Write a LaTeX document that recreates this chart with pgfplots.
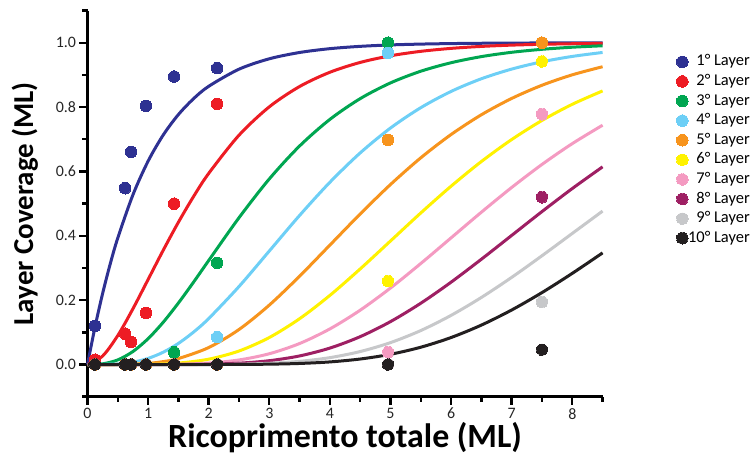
\documentclass[border=0pt]{standalone}
\usepackage{pgfplots}
\pgfplotsset{compat=1.18}
\usepackage{pgfplotstable}
\usepackage{fontspec}
\setmainfont{Carlito}

\definecolor{c1}{HTML}{2E3192}
\definecolor{c2}{HTML}{ED1C24}
\definecolor{c3}{HTML}{00A651}
\definecolor{c4}{HTML}{6DCFF6}
\definecolor{c5}{HTML}{F7941D}
\definecolor{c6}{HTML}{FFF200}
\definecolor{c7}{HTML}{F49AC1}
\definecolor{c8}{HTML}{9E1F63}
\definecolor{c9}{HTML}{C7C8CA}
\definecolor{c10}{HTML}{231F20}

% measured coverage of each layer versus total coverage
\pgfplotstableread{
x     l1    l2    l3    l4    l5    l6    l7    l8    l9    l10
0.124 0.120 0.015 0     0     0     0     0     0     0     0
0.62  0.548 0.096 0     0     0     0     0     0     0     0
0.72  0.661 0.070 0     0     0     0     0     0     0     0
0.965 0.804 0.160 0     0     0     0     0     0     0     0
1.43  0.895 0.500 0.038 0     0     0     0     0     0     0
2.14  0.921 0.810 0.316 0.085 0     0     0     0     0     0
4.96  1.000 1.000 1.000 0.968 0.698 0.259 0.038 0     0     0
7.50  1.000 1.000 1.000 1.000 1.000 0.942 0.778 0.520 0.194 0.046
}\points

\pgfplotsset{
  dots/.style={only marks, mark=*, mark size=5.8bp, mark options={draw=#1, fill=#1, line width=0pt}},
  fit/.style={smooth, no markers, line width=3bp, color=#1, forget plot},
}

\begin{document}
\begin{tikzpicture}
\useasboundingbox (0,0) rectangle (753bp,454bp);
\begin{axis}[
  at={(87.5bp,57.3bp)}, anchor=south west,
  scale only axis, width=515.1bp, height=386.1bp,
  xmin=0, xmax=8.5, ymin=-0.1, ymax=1.1,
  axis lines*=left,
  axis line style={line width=2.9bp, black},
  xtick={0,1,...,8}, minor xtick={0.5,1.5,...,8.5},
  ytick={0,0.2,0.4,0.6,0.8,1.0}, minor ytick={-0.1,0.1,0.3,0.5,0.7,0.9,1.1},
  xtick pos=left, ytick pos=left, tick align=outside,
  major tick length=8bp, minor tick length=5bp,
  every tick/.style={line width=2.4bp, black},
  /pgf/number format/assume math mode=true,
  ticklabel style={font=\fontsize{16}{16}\selectfont, color=black!85},
  yticklabel style={/pgf/number format/.cd, fixed, fixed zerofill, precision=1},
  xlabel={Ricoprimento totale (ML)},
  ylabel={Layer Coverage (ML)},
  xlabel style={font=\bfseries\fontsize{34}{34}\selectfont, at={(axis description cs:0.5,-0.1303)}, anchor=base},
  ylabel style={font=\bfseries\fontsize{29}{29}\selectfont, at={(axis description cs:-0.1058,0.5)}, anchor=base, rotate=0},
  legend cell align=right,
  legend style={draw=none, fill=none, inner sep=0pt,
    at={(rel axis cs:1.286,0.8885)}, anchor=north east,
    font=\fontsize{16.5}{16.5}\selectfont,
    row sep=3.6bp,
    nodes={inner sep=0pt, text height=12bp, text depth=4bp},
    /tikz/every even column/.append style={column sep=3bp}},
  clip=false,
]
\addplot+[dots=c1]  table[x=x, y=l1]  {\points}; \addlegendentry{1° Layer}
\addplot+[dots=c2]  table[x=x, y=l2]  {\points}; \addlegendentry{2° Layer}
\addplot+[dots=c3]  table[x=x, y=l3]  {\points}; \addlegendentry{3° Layer}
\addplot+[dots=c4]  table[x=x, y=l4]  {\points}; \addlegendentry{4° Layer}
\addplot+[dots=c5]  table[x=x, y=l5]  {\points}; \addlegendentry{5° Layer}
\addplot+[dots=c6]  table[x=x, y=l6]  {\points}; \addlegendentry{6° Layer}
\addplot+[dots=c7]  table[x=x, y=l7]  {\points}; \addlegendentry{7° Layer}
\addplot+[dots=c8]  table[x=x, y=l8]  {\points}; \addlegendentry{8° Layer}
\addplot+[dots=c9]  table[x=x, y=l9]  {\points}; \addlegendentry{9° Layer}
\addplot+[dots=c10] table[x=x, y=l10] {\points}; \addlegendentry{10° Layer}

% fitted growth curves, one per layer
\addplot[fit=c1] coordinates {(0,0) (0.125,0.1175) (0.25,0.2212) (0.375,0.3127) (0.5,0.3935) (0.75,0.5276) (1,0.6321) (1.25,0.7135) (1.5,0.7769) (1.75,0.8262) (2,0.8647) (2.5,0.9179) (3,0.9502) (3.5,0.9698) (4,0.9817) (4.5,0.9889) (5,0.9933) (5.5,0.9959) (6,0.9975) (6.5,0.9985) (7,0.9991) (7.5,0.9994) (8,0.9997) (8.5,0.9998)};
\addplot[fit=c2] coordinates {(0,0) (0.25,0.0265) (0.5,0.0902) (0.75,0.1734) (1,0.2642) (1.25,0.3554) (1.5,0.4422) (1.75,0.5221) (2,0.5940) (2.5,0.7127) (3,0.8009) (3.5,0.8641) (4,0.9084) (4.5,0.9389) (5,0.9596) (5.5,0.9734) (6,0.9826) (6.5,0.9887) (7,0.9927) (7.5,0.9953) (8,0.9970) (8.5,0.9981)};
\addplot[fit=c3] coordinates {(0,0) (0.25,0.0022) (0.5,0.0144) (0.75,0.0405) (1,0.0803) (1.25,0.1315) (1.5,0.1912) (1.75,0.2560) (2,0.3233) (2.5,0.4562) (3,0.5768) (3.5,0.6792) (4,0.7619) (4.5,0.8264) (5,0.8753) (5.5,0.9116) (6,0.9380) (6.5,0.9570) (7,0.9704) (7.5,0.9797) (8,0.9862) (8.5,0.9907)};
\addplot[fit=c4] coordinates {(0,0) (0.5,0.0018) (0.75,0.0073) (1,0.0190) (1.25,0.0383) (1.5,0.0656) (1.75,0.1008) (2,0.1429) (2.5,0.2424) (3,0.3528) (3.5,0.4634) (4,0.5665) (4.5,0.6577) (5,0.7350) (5.5,0.7983) (6,0.8488) (6.5,0.8882) (7,0.9182) (7.5,0.9409) (8,0.9576) (8.5,0.9699)};
\addplot[fit=c5] coordinates {(0,0) (0.5,0.0002) (1,0.0037) (1.25,0.0091) (1.5,0.0186) (2,0.0527) (2.5,0.1088) (3,0.1847) (3.5,0.2746) (4,0.3712) (4.5,0.4679) (5,0.5595) (5.5,0.6425) (6,0.7149) (6.5,0.7763) (7,0.8270) (7.5,0.8680) (8,0.9004) (8.5,0.9256)};
\addplot[fit=c6] coordinates {(0,0) (0.5,0) (1,0.0006) (1.5,0.0045) (2,0.0166) (2.5,0.0420) (3,0.0839) (3.5,0.1424) (4,0.2149) (4.5,0.2971) (5,0.3840) (5.5,0.4711) (6,0.5543) (6.5,0.6310) (7,0.6993) (7.5,0.7586) (8,0.8088) (8.5,0.8504)};
\addplot[fit=c7] coordinates {(0,0) (0.5,0) (1,0.0001) (1.5,0.0009) (2,0.0045) (2.5,0.0142) (3,0.0335) (3.5,0.0653) (4,0.1107) (4.5,0.1689) (5,0.2378) (5.5,0.3140) (6,0.3937) (6.5,0.4735) (7,0.5503) (7.5,0.6219) (8,0.6866) (8.5,0.7438)};
\addplot[fit=c8] coordinates {(0,0) (0.5,0) (1,0) (1.5,0.0002) (2,0.0011) (2.5,0.0042) (3,0.0119) (3.5,0.0267) (4,0.0511) (4.5,0.0866) (5,0.1334) (5.5,0.1905) (6,0.2560) (6.5,0.3273) (7,0.4013) (7.5,0.4754) (8,0.5470) (8.5,0.6144)};
\addplot[fit=c9] coordinates {(0,0) (0.5,0) (1,0) (1.5,0) (2,0.0002) (2.5,0.0011) (3,0.0038) (3.5,0.0099) (4,0.0214) (4.5,0.0403) (5,0.0681) (5.5,0.1056) (6,0.1528) (6.5,0.2085) (7,0.2709) (7.5,0.3381) (8,0.4075) (8.5,0.4769)};
\addplot[fit=c10] coordinates {(0,0) (0.5,0) (1,0) (1.5,0) (2,0) (2.5,0.0003) (3,0.0011) (3.5,0.0033) (4,0.0081) (4.5,0.0171) (5,0.0318) (5.5,0.0538) (6,0.0839) (6.5,0.1226) (7,0.1695) (7.5,0.2236) (8,0.2834) (8.5,0.3470)};
\end{axis}
\end{tikzpicture}
\end{document}
